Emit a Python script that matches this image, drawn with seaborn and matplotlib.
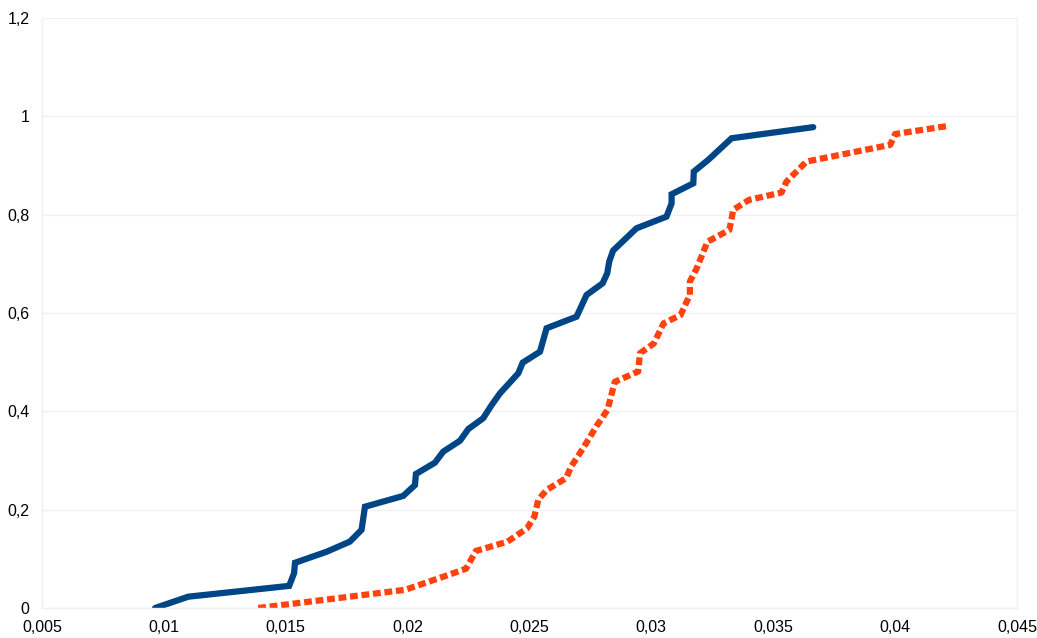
import numpy as np
import pandas as pd
import matplotlib
matplotlib.use("Agg")
import matplotlib.pyplot as plt
from matplotlib.ticker import FuncFormatter
import seaborn as sns

blue_x = [0.00964, 0.0110, 0.01514, 0.01534, 0.01538, 0.01668, 0.01763, 0.01811, 0.01825,
          0.01982, 0.0203, 0.02034, 0.02112, 0.02146, 0.02215, 0.02249, 0.0231, 0.02345,
          0.02379, 0.02454, 0.02472, 0.02543, 0.0257, 0.02693, 0.02734, 0.028, 0.02819,
          0.02827, 0.02843, 0.02939, 0.03062, 0.03083, 0.03083, 0.03172, 0.03174, 0.03233,
          0.03329, 0.03664]
blue_y = [0.0, 0.023, 0.045, 0.0705, 0.092, 0.1145, 0.135, 0.159, 0.206,
          0.228, 0.25, 0.2726, 0.2956, 0.318, 0.3403, 0.364, 0.386, 0.413,
          0.4367, 0.4774, 0.499, 0.5213, 0.569, 0.5925, 0.6367, 0.6604, 0.681,
          0.7045, 0.727, 0.7723, 0.796, 0.823, 0.8415, 0.8638, 0.8876, 0.9113,
          0.9554, 0.978]

orange_x = [0.01387, 0.0199, 0.0216, 0.0224, 0.0228, 0.0241, 0.0249, 0.0252, 0.02536,
            0.0257, 0.0265, 0.0267, 0.0272, 0.02775, 0.0282, 0.0285, 0.02946, 0.02953,
            0.0301, 0.0305, 0.0312, 0.03158, 0.03158, 0.03186, 0.0323, 0.0332, 0.03336,
            0.034, 0.03534, 0.03554, 0.03636, 0.0398, 0.04, 0.0421]
orange_y = [0.0, 0.037, 0.066, 0.08, 0.116, 0.135, 0.162, 0.186, 0.22,
            0.24, 0.264, 0.287, 0.325, 0.37, 0.403, 0.46, 0.481, 0.518,
            0.538, 0.579, 0.596, 0.637, 0.664, 0.691, 0.745, 0.769, 0.81,
            0.83, 0.845, 0.867, 0.908, 0.942, 0.964, 0.98]

x_ticks = [0.005, 0.01, 0.015, 0.02, 0.025, 0.03, 0.035, 0.04, 0.045]
y_ticks = [0, 0.2, 0.4, 0.6, 0.8, 1.0, 1.2]

sns.set_style("white")
plt.rcParams['font.family'] = ['Liberation Sans', 'DejaVu Sans']

fig = plt.figure(figsize=(10.37, 6.38), dpi=100)
ax = fig.add_axes([42/1037, 30/638, (1017-42)/1037, (608-18)/638])

df_b = pd.DataFrame({"x": blue_x, "y": blue_y})
df_o = pd.DataFrame({"x": orange_x, "y": orange_y})

sns.lineplot(data=df_b, x="x", y="y", ax=ax, sort=False, estimator=None,
             color="#004586", linewidth=4.5, solid_joinstyle="miter")
sns.lineplot(data=df_o, x="x", y="y", ax=ax, sort=False, estimator=None,
             color="#ff420e", linewidth=4.5)
ax.lines[1].set_dashes((1.25, 0.6))
ax.lines[1].set_dash_capstyle("butt")

ax.set_xlim(x_ticks[0], x_ticks[-1])
ax.set_ylim(y_ticks[0], y_ticks[-1])
ax.set_xticks(x_ticks)
ax.set_yticks(y_ticks)

def fmt(v, pos):
    s = ("%.3f" % v).rstrip("0").rstrip(".")
    return s.replace(".", ",")

ax.xaxis.set_major_formatter(FuncFormatter(fmt))
ax.yaxis.set_major_formatter(FuncFormatter(fmt))
ax.set_xlabel("")
ax.set_ylabel("")

grid_c = "#f0f0f0"
ax.grid(axis="y", color=grid_c, linewidth=1)
ax.set_axisbelow(True)
for s in ax.spines.values():
    s.set_color(grid_c)
    s.set_linewidth(1)
ax.spines["top"].set_visible(False)
ax.tick_params(axis="both", which="major", direction="out", length=6,
               color=grid_c, labelsize=11.5, labelcolor="#000000", width=1)
ax.tick_params(axis="x", pad=3)
ax.tick_params(axis="y", pad=3)

fig.savefig("out.png", dpi=100)
